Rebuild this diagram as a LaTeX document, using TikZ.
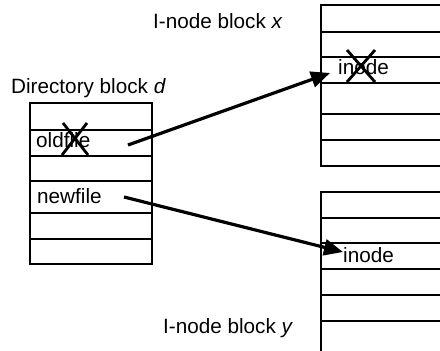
\documentclass[tikz,border=0pt]{standalone}
\usepackage{fontspec}
\setmainfont{Liberation Sans}
\usetikzlibrary{arrows.meta}
\begin{document}
\begin{tikzpicture}[x=1pt,y=-1pt,
  lbl/.style={inner sep=0pt, anchor=base west, font=\fontsize{20.7}{24}\selectfont},
  gridline/.style={line width=1.1pt},
  cross/.style={line width=2.8pt},
  ptr/.style={line width=3.2pt, -{Triangle[length=19pt,width=16pt]}}]
\useasboundingbox (0,0) rectangle (440,351);
% directory block d
\draw[gridline] (30,103) rectangle (152,264);
\foreach \y in {130,156,181,213,239} \draw[gridline] (30,\y) -- (152,\y);
% i-node block x
\draw[gridline] (440,5) -- (321,5) -- (321,166) -- (440,166);
\foreach \y in {32,57,83,114,140} \draw[gridline] (321,\y) -- (440,\y);
% i-node block y
\draw[gridline] (440,192) -- (321,192) -- (321,352);
\foreach \y in {218,243,269,295,321} \draw[gridline] (321,\y) -- (440,\y);
% labels
\node[lbl] (dirlbl) at (11,93) {Directory block \textit{d}};
\node[lbl] (xlbl) at (153,28) {I-node block \textit{x}};
\node[lbl] (ylbl) at (163,333) {I-node block \textit{y}};
\node[lbl] (oldfile) at (36,147) {oldfile};
\node[lbl] (newfile) at (37,203) {newfile};
\node[lbl] (inodex) at (338,74) {inode};
\node[lbl] (inodey) at (343,262) {inode};
% crosses
\draw[cross] (63,123) -- (88,155);
\draw[cross] (87,123) -- (62,155);
\draw[cross] (347,50) -- (375,82);
\draw[cross] (375,50) -- (347,82);
% pointers
\coordinate (p1s) at (128,145);
\coordinate (p1e) at (330,73);
\coordinate (p2s) at (124,197);
\coordinate (p2e) at (343,252);
\draw[ptr] (p1s) -- (p1e);
\draw[ptr] (p2s) -- (p2e);
\end{tikzpicture}
\end{document}
